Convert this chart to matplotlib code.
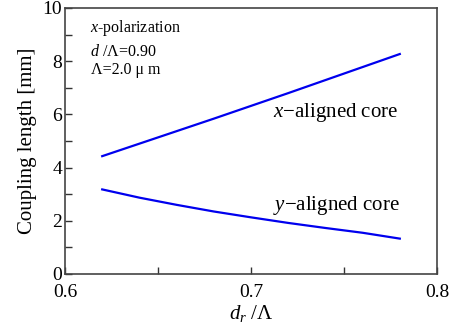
import matplotlib
matplotlib.use("Agg")
import matplotlib.pyplot as plt
from matplotlib.ticker import MultipleLocator

plt.rcParams['font.family'] = ['Liberation Serif', 'DejaVu Serif']
plt.rcParams['mathtext.fontset'] = 'custom'
plt.rcParams['mathtext.rm'] = 'Liberation Serif'
plt.rcParams['mathtext.it'] = 'Liberation Serif:italic'

dr_ratio = [0.62, 0.64, 0.66, 0.68, 0.70, 0.72, 0.74, 0.76, 0.78]
x_aligned = [4.43, 4.90, 5.37, 5.84, 6.32, 6.80, 7.29, 7.78, 8.27]
y_aligned = [3.18, 2.87, 2.60, 2.35, 2.13, 1.92, 1.73, 1.55, 1.33]

fig = plt.figure(figsize=(4.56, 3.33), dpi=100)
ax = fig.add_axes([65/456, 1-274/333, (437-65)/456, (274-8)/333])

ax.plot(dr_ratio, x_aligned, color='#0000ee', lw=1.6)
ax.plot(dr_ratio, y_aligned, color='#0000ee', lw=1.6)

ax.set_xlim(0.6, 0.8)
ax.set_ylim(0, 10)
ax.xaxis.set_minor_locator(MultipleLocator(0.05))
ax.yaxis.set_major_locator(MultipleLocator(2))
ax.yaxis.set_minor_locator(MultipleLocator(1))
ax.set_xticks([0.6, 0.7, 0.8])
ax.set_xticklabels(['0.6', '0.7', '0.8'])
ax.tick_params(which='both', direction='in', labelsize=14, colors='#333333', labelcolor='black')
ax.tick_params(which='major', length=5, width=1)
ax.tick_params(which='minor', length=5, width=1)
ax.tick_params(axis='x', which='both', top=False, pad=7.5)
ax.tick_params(axis='y', which='both', right=False, pad=2)
for s in ax.spines.values():
    s.set_color('#444444')
    s.set_linewidth(1.2)

ax.set_ylabel('Coupling length [mm]', fontsize=15, labelpad=4)
ax.set_xlabel(r'$d_r$ /Λ', fontsize=15, labelpad=1)

ax.text(0.067, 0.926, r'$x$-polarization', transform=ax.transAxes, fontsize=11.5, va='center')
ax.text(0.067, 0.836, r'$d$ /Λ=0.90', transform=ax.transAxes, fontsize=11.5, va='center')
ax.text(0.070, 0.767, 'Λ=2.0 μ m', transform=ax.transAxes, fontsize=11.5, va='center')

ax.text(0.7117, 6.08, r'$x$$-$aligned core', fontsize=15, va='center', ha='left')
ax.text(0.7117, 2.59, r'$y$$-$aligned core', fontsize=15, va='center', ha='left')

fig.savefig('out.png', dpi=100)
